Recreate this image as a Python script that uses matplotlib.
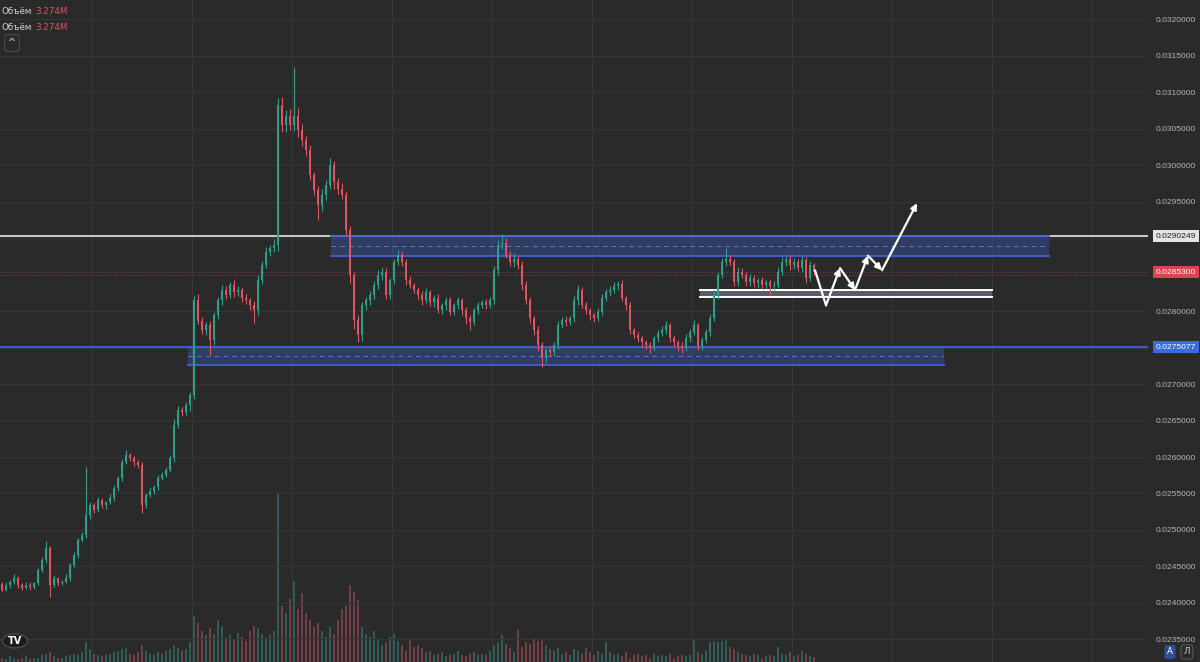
import matplotlib

matplotlib.use("Agg")
import matplotlib.pyplot as plt
import matplotlib.transforms as mtransforms
from matplotlib.patches import Circle
import numpy as np

# Prices are written in units of 1e-4 (241.8 -> 0.02418).
CLOSE = [
    241.8, 242.5, 242.9, 243.4, 242.5, 242.1, 242.5, 242.2, 242.7, 244.5,
    245.9, 247.5, 242.5, 243.4, 242.7, 242.9, 243.4, 245.2, 246.6, 248.6,
    249.3, 252.0, 253.4, 252.7, 254.1, 253.4, 253.8, 254.4, 255.7, 257.1,
    259.3, 260.3, 259.8, 259.3, 258.9, 253.4, 254.8, 255.4, 255.9, 257.1,
    257.6, 258.2, 259.8, 264.4, 266.4, 266.2, 267.1, 268.5, 281.5, 278.7,
    277.4, 278.1, 276.0, 279.4, 281.5, 282.9, 282.2, 283.6, 282.6, 282.9,
    281.8, 281.5, 280.8, 280.1, 284.2, 286.3, 288.1, 288.6, 289.0, 308.2,
    305.5, 306.8, 305.5, 306.8, 304.8, 303.4, 302.1, 298.6, 296.6, 294.5,
    295.9, 297.3, 300.0, 297.7, 296.8, 295.9, 291.1, 284.9, 278.8, 276.7,
    280.8, 281.5, 282.2, 283.6, 284.9, 285.4, 282.2, 284.2, 286.7, 287.7,
    286.7, 284.2, 283.6, 282.9, 282.2, 281.5, 282.6, 281.2, 281.8, 280.1,
    280.8, 281.5, 279.9, 280.8, 281.5, 280.1, 279.0, 278.5, 280.1, 280.8,
    281.2, 280.8, 281.5, 285.6, 289.0, 289.4, 287.7, 286.7, 287.2, 286.3,
    283.6, 281.5, 279.0, 277.4, 275.3, 273.6, 274.7, 274.4, 275.3, 278.1,
    278.8, 278.5, 279.0, 281.5, 282.9, 280.8, 280.1, 279.4, 279.0, 279.9,
    281.8, 282.6, 282.9, 283.4, 283.7, 281.8, 280.8, 277.4, 276.7, 276.3,
    275.7, 275.3, 274.9, 276.3, 277.0, 277.4, 278.1, 276.3, 275.7, 275.2,
    274.9, 276.3, 277.1, 278.1, 275.2, 276.0, 277.1, 279.0, 282.2, 284.9,
    286.7, 287.2, 286.7, 284.0, 285.4, 284.9, 284.0, 284.6, 283.8, 284.2,
    283.6, 284.0, 283.5, 283.6, 285.4, 286.7, 287.2, 286.3, 286.7, 285.9,
    287.0, 284.6, 286.3, 285.3,
]
FIRST_OPEN = 242.6

# Wick lengths above / below the body, in units of 1e-5.
UPPER_WICK = [
    3, 4, 2, 6, 3, 2, 4, 3, 2, 3, 4, 10, 3, 4, 2, 3, 5, 3, 4, 3,
    4, 66, 5, 3, 4, 3, 2, 5, 4, 3, 4, 6, 3, 4, 3, 4, 3, 5, 3, 4,
    3, 4, 5, 8, 6, 4, 5, 4, 6, 9, 5, 4, 6, 5, 4, 7, 5, 4, 6, 5,
    4, 5, 3, 6, 8, 5, 7, 4, 9, 10, 12, 8, 9, 67, 10, 8, 6, 7, 5, 6,
    8, 7, 10, 6, 5, 7, 6, 5, 4, 6, 5, 4, 6, 5, 7, 6, 5, 4, 5, 7,
    5, 4, 6, 3, 4, 5, 6, 3, 4, 5, 3, 4, 5, 3, 4, 3, 5, 4, 3, 4,
    3, 4, 5, 6, 8, 12, 6, 5, 7, 4, 6, 5, 4, 3, 5, 4, 3, 4, 5, 6,
    4, 5, 3, 6, 7, 4, 5, 3, 4, 5, 6, 4, 5, 6, 4, 5, 3, 4, 3, 4,
    3, 4, 5, 3, 4, 5, 6, 3, 4, 3, 5, 6, 4, 7, 3, 4, 5, 6, 7, 5,
    6, 14, 5, 4, 6, 5, 4, 5, 3, 4, 5, 3, 4, 5, 6, 7, 4, 5, 6, 5,
    6, 4, 5, 3,
]
LOWER_WICK = [
    3, 2, 4, 3, 4, 3, 2, 4, 3, 2, 3, 4, 17, 3, 4, 3, 2, 4, 3, 4,
    3, 4, 5, 4, 3, 4, 5, 3, 4, 3, 4, 3, 4, 5, 4, 11, 4, 3, 5, 4,
    3, 4, 3, 5, 4, 6, 5, 8, 6, 5, 6, 7, 20, 6, 5, 6, 5, 4, 6, 5,
    6, 5, 7, 17, 6, 5, 4, 6, 5, 8, 9, 10, 7, 8, 9, 7, 8, 6, 7, 20,
    8, 7, 6, 9, 7, 6, 8, 10, 12, 9, 8, 7, 6, 5, 6, 7, 5, 6, 5, 4,
    5, 6, 5, 4, 5, 6, 4, 5, 6, 4, 5, 6, 5, 4, 5, 6, 7, 11, 4, 5,
    4, 5, 4, 5, 6, 5, 4, 5, 6, 5, 7, 5, 6, 7, 8, 12, 6, 5, 6, 5,
    4, 5, 4, 5, 6, 4, 5, 6, 5, 4, 5, 4, 5, 4, 5, 4, 6, 5, 4, 5,
    6, 5, 7, 4, 5, 4, 5, 6, 5, 7, 6, 4, 5, 4, 6, 5, 4, 5, 4, 5,
    4, 5, 4, 6, 5, 4, 5, 6, 5, 7, 6, 5, 13, 6, 5, 4, 5, 6, 5, 4,
    5, 8, 5, 4,
]

# Volume per candle, millions.
VOLUME = [
    3, 2, 4, 3, 2, 3, 4, 2, 3, 3, 5, 6, 7, 4, 3, 3, 4, 5, 6, 5,
    7, 14, 9, 6, 5, 4, 5, 6, 7, 8, 9, 10, 6, 5, 7, 12, 8, 6, 5, 7,
    6, 8, 9, 12, 10, 8, 9, 14, 33, 28, 22, 19, 24, 20, 30, 25, 17, 19, 16, 21,
    18, 15, 22, 26, 24, 20, 17, 19, 22, 120, 40, 35, 45, 58, 38, 49, 35, 30, 25, 28,
    22, 18, 25, 20, 30, 38, 40, 55, 50, 44, 25, 20, 18, 22, 16, 12, 14, 18, 20, 15,
    12, 8, 16, 11, 12, 10, 7, 8, 5, 6, 7, 4, 5, 6, 8, 5, 4, 6, 7, 5,
    6, 5, 8, 12, 14, 19, 13, 10, 7, 23, 11, 14, 13, 17, 15, 16, 12, 9, 8, 10,
    6, 7, 5, 9, 8, 6, 10, 7, 5, 8, 6, 14, 7, 5, 6, 4, 7, 3, 5, 6,
    4, 5, 3, 6, 4, 5, 4, 6, 3, 4, 5, 4, 5, 16, 7, 6, 8, 14, 15, 14,
    15, 16, 11, 9, 7, 6, 5, 4, 6, 5, 3, 4, 5, 4, 11, 6, 5, 7, 4, 5,
    8, 6, 4, 3.274,
]

# Drawn zones (candle index range, price range)
UPPER_ZONE = (82.25, 261.75, 0.028760, 0.0290249)
LOWER_ZONE = (46.5, 235.5, 0.027260, 0.0275077)
WHITE_BAND = (174.5, 247.5, 0.028190, 0.028290)
LEVEL_WHITE = 0.0290249
LEVEL_BLUE = 0.0275077
LAST_PRICE = 0.0285300

# Projected path drawn by hand
PATH_X = [203.25, 206.0, 209.5, 213.25, 216.5, 220.0, 228.75]
PATH_Y = [0.02856, 0.02808, 0.02859, 0.02829, 0.02876, 0.02856, 0.02948]

PRICE_TICKS = np.round(np.arange(0.0235, 0.03201, 0.0005), 5)
HIDDEN_TICKS = [0.0275, 0.0285, 0.029]

BG = "#2a2a2a"
GRID = "#353535"
GREEN = "#2a9f8a"
RED = "#e2525f"
VOL_GREEN = "#2d5d56"
VOL_RED = "#733f45"
ZONE_BLUE = "#3d62d4"
LABEL_SIZE = 6.1

close = np.array(CLOSE) * 1e-4
opens = np.concatenate([[FIRST_OPEN * 1e-4], close[:-1]])
high = np.maximum(opens, close) + np.array(UPPER_WICK) * 1e-5
low = np.minimum(opens, close) - np.array(LOWER_WICK) * 1e-5
idx = np.arange(len(close))
up = close >= opens

fig = plt.figure(figsize=(12, 6.62), dpi=100, facecolor=BG)
rect = [0, 0, 1148 / 1200, 1]
ax_vol = fig.add_axes(rect)
ax = fig.add_axes(rect, sharex=ax_vol)
ax_vol.set_facecolor(BG)
ax.set_facecolor("none")

# volume pane
ax_vol.bar(idx, VOLUME, width=0.72, color=np.where(up, VOL_GREEN, VOL_RED), linewidth=0)
ax_vol.set_ylim(0, 473)
ax_vol.axis("off")

# grid
for gx in np.arange(22.5, 287, 25):
    ax.axvline(gx, color=GRID, lw=0.8, zorder=0)
for gy in PRICE_TICKS:
    ax.axhline(gy, color=GRID, lw=0.8, zorder=0)

# zones
for x0, x1, lo, hi in (UPPER_ZONE, LOWER_ZONE):
    ax.fill_between([x0, x1], lo, hi, color=ZONE_BLUE, alpha=0.33, lw=0, zorder=1)
    ax.plot([x0, x1], [lo, lo], color=ZONE_BLUE, lw=1.3, zorder=2)
    ax.plot([x0, x1], [(lo + hi) / 2] * 2, color="#5877cc", lw=0.7,
            ls=(0, (5, 4)), zorder=2)

ax.axhline(LEVEL_WHITE, color="#e8e8e8", lw=1.2, zorder=2)
ax.plot([UPPER_ZONE[0], UPPER_ZONE[1]], [UPPER_ZONE[3]] * 2, color=ZONE_BLUE,
        lw=1.3, zorder=2)
ax.axhline(LEVEL_BLUE, color=ZONE_BLUE, lw=1.3, zorder=2)
ax.axhline(LAST_PRICE, color="#8c3a42", lw=0.7, ls=(0, (1, 2)), zorder=1)

x0, x1, lo, hi = WHITE_BAND
ax.fill_between([x0, x1], lo, hi, color="#5a5c6c", lw=0, zorder=2)
ax.plot([x0, x1], [lo, lo], color="white", lw=1.4, zorder=3)
ax.plot([x0, x1], [hi, hi], color="white", lw=1.4, zorder=3)

# candles
colors = np.where(up, GREEN, RED)
ax.vlines(idx, low, high, colors=colors, lw=0.8, zorder=4)
ax.bar(idx, np.maximum(np.abs(close - opens), 1.2e-6), bottom=np.minimum(opens, close),
       width=0.68, color=colors, linewidth=0, zorder=5)

# projected path
ax.plot(PATH_X[:2], PATH_Y[:2], color="white", lw=1.6, zorder=6,
        solid_capstyle="round")
for i in range(1, len(PATH_X) - 1):
    ax.annotate("", xy=(PATH_X[i + 1], PATH_Y[i + 1]), xytext=(PATH_X[i], PATH_Y[i]),
                arrowprops=dict(arrowstyle="-|>", color="white", lw=1.6,
                                mutation_scale=9, shrinkA=0, shrinkB=0),
                zorder=6)

ax.set_xlim(-0.5, 286.5)
ax.set_ylim(0.023190, 0.0322646)
for s in ax.spines.values():
    s.set_visible(False)
ax.tick_params(axis="x", bottom=False, labelbottom=False)
ax.yaxis.tick_right()
ax.set_yticks(PRICE_TICKS)
ax.set_yticklabels(["" if any(abs(t - h) < 1e-9 for h in HIDDEN_TICKS) else f"{t:.7f}"
                    for t in PRICE_TICKS])
ax.tick_params(axis="y", length=0, pad=5.5, labelsize=LABEL_SIZE, labelcolor="#b4b4b4")
for lab in ax.get_yticklabels():
    lab.set_fontfamily("Liberation Sans")

# price badges
trans = mtransforms.blended_transform_factory(ax.transAxes, ax.transData)
for price, text, fc, tc in (
    (LEVEL_WHITE, "0.0290249", "#e4e4e4", "#1e1e1e"),
    (LAST_PRICE, "0.0285300", "#e0424f", "white"),
    (LEVEL_BLUE, "0.0275077", "#3a6ae0", "white"),
):
    ax.text(1.0068, price, text, transform=trans, va="center", ha="left",
            fontsize=LABEL_SIZE, color=tc, family="Liberation Sans", zorder=7,
            bbox=dict(boxstyle="square,pad=0.3", fc=fc, ec="none"))

# legend texts
for ypx in (12, 28):
    fig.text(2 / 1200, 1 - ypx / 662, "Объём", color="#d4d4d4", fontsize=6.3,
             va="center", ha="left")
    fig.text(35 / 1200, 1 - ypx / 662, "3.274M", color=RED, fontsize=6.3,
             va="center", ha="left")
fig.text(12 / 1200, 1 - 43 / 662, "^", color="#d0d0d0", fontsize=7, va="center",
         ha="center", bbox=dict(boxstyle="round,pad=0.35", fc=BG, ec="#4a4a4a", lw=0.8))

# logo and corner buttons
fig.patches.append(Circle((15 / 1200, 1 - 641 / 662), 0.0105, transform=fig.transFigure,
                          fc="#1c1c1c", ec="#4a4a4a", lw=1.0))
fig.text(15 / 1200, 1 - 641 / 662, "TV", color="white", fontsize=7, fontweight="bold",
         va="center", ha="center")
fig.text(1170 / 1200, 1 - 652 / 662, "A", color="white", fontsize=6.2, va="center",
         ha="center", bbox=dict(boxstyle="round,pad=0.3", fc="#2c4e9a", ec="none"))
fig.text(1187 / 1200, 1 - 652 / 662, "Л", color="#d0d0d0", fontsize=6.2, va="center",
         ha="center", bbox=dict(boxstyle="round,pad=0.3", fc=BG, ec="#555555", lw=0.8))

fig.savefig("out.png", dpi=100, facecolor=BG)
